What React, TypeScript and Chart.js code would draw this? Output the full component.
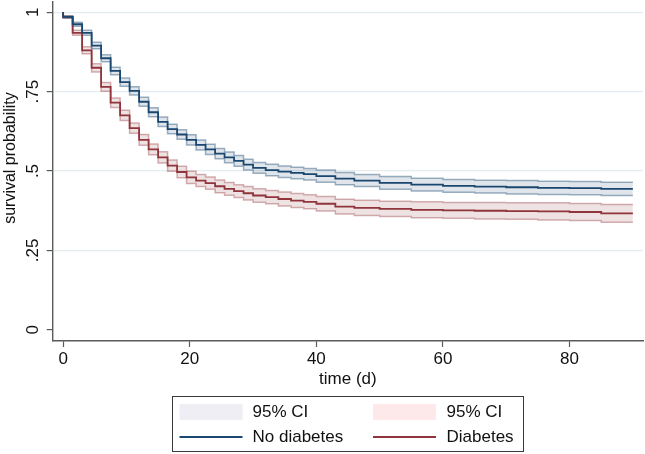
import React, { useEffect, useRef } from "react";
import { Chart, registerables } from "chart.js";

Chart.register(...registerables);

// time points (days) at which the Kaplan-Meier estimates are read
const times = [0, 1.5, 3, 4.5, 6, 7.5, 9, 10.5, 12, 13.5, 15, 16.5, 18, 19.5, 21, 22.5, 24, 25.5, 27, 28.5, 30, 32, 34, 36, 38, 40, 43, 46, 50, 55, 60, 65, 70, 75, 80, 85, 90];

const noDiabetes = [1.0, 0.985, 0.962, 0.935, 0.895, 0.855, 0.815, 0.78, 0.752, 0.718, 0.685, 0.655, 0.632, 0.615, 0.598, 0.582, 0.568, 0.555, 0.543, 0.532, 0.52, 0.51, 0.503, 0.498, 0.494, 0.49, 0.484, 0.476, 0.47, 0.463, 0.457, 0.453, 0.451, 0.449, 0.447, 0.446, 0.444];
const noDiabetesHi = [1.0, 0.988, 0.968, 0.943, 0.905, 0.866, 0.827, 0.793, 0.765, 0.732, 0.699, 0.67, 0.647, 0.63, 0.614, 0.598, 0.584, 0.571, 0.56, 0.549, 0.537, 0.527, 0.521, 0.516, 0.512, 0.508, 0.503, 0.495, 0.489, 0.483, 0.477, 0.473, 0.471, 0.47, 0.468, 0.467, 0.465];
const noDiabetesLo = [1.0, 0.982, 0.956, 0.927, 0.885, 0.844, 0.803, 0.767, 0.739, 0.704, 0.671, 0.64, 0.617, 0.6, 0.582, 0.566, 0.552, 0.539, 0.526, 0.515, 0.503, 0.493, 0.485, 0.48, 0.476, 0.472, 0.465, 0.457, 0.451, 0.443, 0.437, 0.433, 0.431, 0.428, 0.426, 0.425, 0.423];

const diabetes = [1.0, 0.985, 0.935, 0.88, 0.825, 0.765, 0.715, 0.675, 0.635, 0.598, 0.568, 0.543, 0.517, 0.497, 0.48, 0.47, 0.462, 0.452, 0.444, 0.437, 0.43, 0.423, 0.418, 0.412, 0.407, 0.403, 0.397, 0.388, 0.384, 0.381, 0.378, 0.376, 0.375, 0.374, 0.373, 0.371, 0.367];
const diabetesHi = [1.0, 0.989, 0.943, 0.891, 0.838, 0.779, 0.73, 0.691, 0.651, 0.615, 0.585, 0.561, 0.535, 0.515, 0.499, 0.489, 0.481, 0.472, 0.464, 0.457, 0.451, 0.444, 0.439, 0.434, 0.429, 0.425, 0.42, 0.411, 0.408, 0.405, 0.403, 0.401, 0.401, 0.4, 0.4, 0.398, 0.395];
const diabetesLo = [1.0, 0.981, 0.927, 0.869, 0.812, 0.751, 0.7, 0.659, 0.619, 0.581, 0.551, 0.525, 0.499, 0.479, 0.461, 0.451, 0.443, 0.432, 0.424, 0.417, 0.409, 0.402, 0.397, 0.39, 0.385, 0.381, 0.374, 0.365, 0.36, 0.357, 0.353, 0.351, 0.349, 0.348, 0.346, 0.344, 0.339];

const xTicks = [0, 20, 40, 60, 80];
const yTicks = [0, 0.25, 0.5, 0.75, 1];
const yTickLabels = ["0", ".25", ".5", ".75", "1"];

const xTitle = "time (d)";
const yTitle = "survival probability";
const legendLabels = ["95% CI", "95% CI", "No diabetes", "Diabetes"];

const BLUE = "#1a476f";
const RED = "#90353b";
const BLUE_EDGE = "rgba(26,71,111,0.42)";
const RED_EDGE = "rgba(144,53,59,0.38)";
const BLUE_FILL = "rgba(26,71,111,0.14)";
const RED_FILL = "rgba(144,53,59,0.14)";
const GRID = "#e3ecee";
const AXIS = "#5a5a5a";
const FONT = '"Liberation Sans", Arial, Helvetica, sans-serif';

const pts = (vals: number[]) => times.map((t, i) => ({ x: t, y: vals[i] }));

const textPlugin = {
  id: "stataText",
  afterDraw(chart: any) {
    const ctx = chart.ctx;
    const xs = chart.scales.x;
    const ys = chart.scales.y;
    ctx.save();
    ctx.fillStyle = "#111";
    ctx.font = `17px ${FONT}`;
    // x tick labels
    ctx.textAlign = "center";
    ctx.textBaseline = "middle";
    xTicks.forEach((v) => {
      ctx.fillText(String(v), xs.getPixelForValue(v), 359.5);
    });
    // x title
    ctx.fillText(xTitle, (chart.chartArea.left + chart.chartArea.right) / 2, 379);
    // y tick labels (rotated)
    yTicks.forEach((v, i) => {
      const y = ys.getPixelForValue(v);
      ctx.save();
      ctx.translate(33.5, y);
      ctx.rotate(-Math.PI / 2);
      ctx.textAlign = "center";
      ctx.textBaseline = "middle";
      ctx.fillText(yTickLabels[i], 0, 0);
      ctx.restore();
    });
    // y title
    ctx.save();
    ctx.font = `16px ${FONT}`;
    ctx.translate(10.5, 158);
    ctx.rotate(-Math.PI / 2);
    ctx.textAlign = "center";
    ctx.textBaseline = "middle";
    ctx.fillText(yTitle, 0, 0);
    ctx.restore();

    // legend box
    const bx = 172.5, by = 396.5, bw = 351, bh = 55;
    ctx.fillStyle = "#fff";
    ctx.fillRect(bx, by, bw, bh);
    ctx.strokeStyle = "#3a3a3a";
    ctx.lineWidth = 1;
    ctx.strokeRect(bx, by, bw, bh);
    // swatches
    ctx.fillStyle = "#eeeef4";
    ctx.fillRect(179.5, 404, 63, 16);
    ctx.fillStyle = "#fde8ea";
    ctx.fillRect(373, 404, 63, 16);
    ctx.lineWidth = 2;
    ctx.strokeStyle = BLUE;
    ctx.beginPath();
    ctx.moveTo(179.5, 437);
    ctx.lineTo(242.5, 437);
    ctx.stroke();
    ctx.strokeStyle = RED;
    ctx.beginPath();
    ctx.moveTo(373, 437);
    ctx.lineTo(436, 437);
    ctx.stroke();
    ctx.fillStyle = "#111";
    ctx.font = `17px ${FONT}`;
    ctx.textAlign = "left";
    ctx.textBaseline = "middle";
    ctx.fillText(legendLabels[0], 252.5, 412);
    ctx.fillText(legendLabels[1], 446.5, 412);
    ctx.fillText(legendLabels[2], 252.5, 437);
    ctx.fillText(legendLabels[3], 446.5, 437);
    ctx.restore();
  },
};

export default function App() {
  const ref = useRef<HTMLCanvasElement | null>(null);
  useEffect(() => {
    document.body.style.margin = "0";
    if (!ref.current) return;
    const lineBase = { pointRadius: 0, stepped: "after" as const, fill: false };
    const chart = new Chart(ref.current, {
      type: "line",
      data: {
        datasets: [
          { ...lineBase, label: "No diabetes", data: pts(noDiabetes), borderColor: BLUE, borderWidth: 1.8 },
          { ...lineBase, label: "Diabetes", data: pts(diabetes), borderColor: RED, borderWidth: 1.8 },
          { ...lineBase, label: "ci nd hi", data: pts(noDiabetesHi), borderColor: BLUE_EDGE, borderWidth: 1.5 },
          { ...lineBase, label: "ci nd lo", data: pts(noDiabetesLo), borderColor: BLUE_EDGE, borderWidth: 1.5, fill: { target: 2 }, backgroundColor: BLUE_FILL },
          { ...lineBase, label: "ci d hi", data: pts(diabetesHi), borderColor: RED_EDGE, borderWidth: 1.5 },
          { ...lineBase, label: "ci d lo", data: pts(diabetesLo), borderColor: RED_EDGE, borderWidth: 1.5, fill: { target: 4 }, backgroundColor: RED_FILL },
        ],
      },
      options: {
        animation: false,
        responsive: false,
        devicePixelRatio: 1,
        layout: { padding: { top: 2, right: 2, left: 0, bottom: 0 } },
        plugins: { legend: { display: false }, tooltip: { enabled: false } },
        scales: {
          x: {
            type: "linear",
            min: -1.65,
            max: 91.6,
            afterBuildTicks: (s: any) => {
              s.ticks = xTicks.map((v) => ({ value: v }));
            },
            afterFit: (s: any) => {
              s.height = 113;
            },
            ticks: { display: false },
            grid: { color: "rgba(0,0,0,0)", drawOnChartArea: false, drawTicks: true, tickLength: 6, tickColor: AXIS, tickWidth: 1.2 },
            border: { display: true, color: AXIS, width: 1.4 },
          },
          y: {
            type: "linear",
            min: -0.035,
            max: 1.032,
            afterBuildTicks: (s: any) => {
              s.ticks = yTicks.map((v) => ({ value: v }));
            },
            afterFit: (s: any) => {
              s.width = 52.7;
            },
            ticks: { display: false },
            grid: {
              color: (c: any) => (c.tick && c.tick.value === 0 ? "rgba(0,0,0,0)" : GRID),
              lineWidth: 1.2,
              drawTicks: true,
              tickLength: 6,
              tickColor: AXIS,
              tickWidth: 1.2,
            },
            border: { display: true, color: AXIS, width: 1.4 },
          },
        },
      },
      plugins: [textPlugin],
    });
    return () => chart.destroy();
  }, []);
  return (
    <div style={{ width: 645, height: 454, background: "#fff" }}>
      <canvas ref={ref} width={645} height={454} style={{ display: "block" }} />
    </div>
  );
}
